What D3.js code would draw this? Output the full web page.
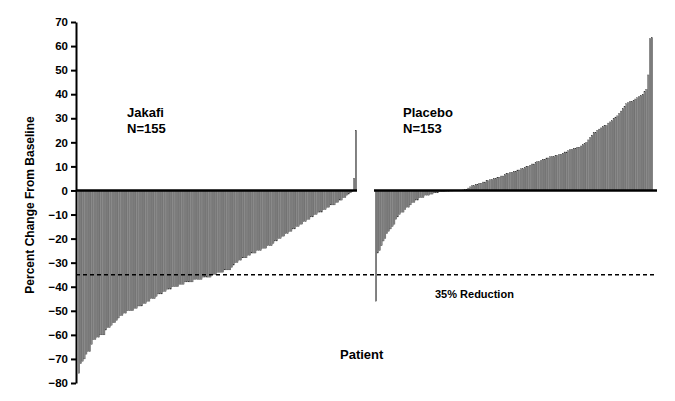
<!DOCTYPE html><html><head><meta charset="utf-8"><script src="https://cdn.jsdelivr.net/npm/d3@7"></script>
<style>body{margin:0;background:#fff}text{font-family:Arial,"Liberation Sans",sans-serif}</style></head><body><svg id="c" width="675" height="401"></svg>
<script>
const jakafi=[-76,-72,-71,-70,-68,-67,-67,-64,-62,-62,-61,-61,-60,-60,-60,-58,-57,-57,-56,-55,-55,-54,-53,-52,-52,-51,-51,-50,-50,-50,-50,-49,-49,-48,-48,-48,-47,-47,-46,-46,-45,-45,-45,-44,-43,-43,-43,-42,-42,-41,-41,-41,-40,-40,-40,-40,-39,-39,-39,-38,-38,-38,-38,-38,-37,-37,-37,-37,-37,-36,-36,-36,-36,-36,-35,-35,-35,-34,-34,-34,-34,-33,-33,-33,-33,-32,-31,-30,-30,-29,-29,-28,-28,-28,-27,-27,-26,-26,-26,-25,-25,-25,-24,-24,-24,-23,-23,-23,-22,-21,-21,-20,-20,-19,-19,-18,-18,-17,-17,-16,-16,-15,-15,-14,-14,-13,-13,-12,-12,-11,-11,-10,-10,-9,-9,-9,-8,-8,-7,-7,-6,-6,-6,-5,-5,-4,-4,-3,-3,-2,-1.5,-1,-0.5,5,25];
const placebo=[-46,-26,-25,-23,-21,-20,-18,-17,-16,-15,-14,-12,-11,-10,-9,-9,-8,-7,-7,-6,-5,-5,-4,-4,-3,-3,-3,-2,-2,-2,-1.5,-1.5,-1,-1,-1,-0.5,-0.5,-0.5,-0.5,-0.3,-0.3,-0.2,-0.2,-0.1,0,0,0,0,0.2,0.3,0.5,1,1.5,2,2,2.5,2.5,3,3,3.5,3.5,4,4,4.5,4.5,5,5,5.5,5.5,6,6,6.5,7,7,7.5,7.5,8,8,8.5,8.5,9,9,9.5,10,10,10.5,11,11,11.5,12,12,12.5,13,13,13.5,13.5,14,14,14,14.5,14.5,15,15,15.5,16,16,16.5,17,17,17.5,17.5,18,18,18.5,19,19.5,20,21,22,23,24,24,25,25.5,26,26.5,27,27,28,28.5,29,30,30.5,31,32,33,34,35,36,37,36.5,37,37.5,38,38.5,39,39.5,40,41,42,48,63,63.5].sort((a,b)=>a-b);
const yTicks=d3.range(-80,71,10);
const svg=d3.select("#c");
const y=d3.scaleLinear().domain([-80,70]).range([383,22]);
const xJ=d3.scaleBand().domain(d3.range(jakafi.length)).range([78,357]).padding(0.15);
const xP=d3.scaleBand().domain(d3.range(placebo.length)).range([375,653]).padding(0.15);
const draw=(data,x)=>svg.append("g").selectAll("rect").data(data).join("rect")
 .attr("x",(d,i)=>x(i)).attr("width",x.bandwidth())
 .attr("y",d=>y(Math.max(0,d))).attr("height",d=>Math.abs(y(d)-y(0))).attr("fill","#8a8a8a").attr("stroke","#333").attr("stroke-width",0.3);
draw(jakafi,xJ);draw(placebo,xP);
svg.append("line").attr("x1",76).attr("x2",357).attr("y1",y(0)).attr("y2",y(0)).attr("stroke","#000").attr("stroke-width",2.5);
svg.append("line").attr("x1",374).attr("x2",657).attr("y1",y(0)).attr("y2",y(0)).attr("stroke","#000").attr("stroke-width",2.5);
svg.append("line").attr("x1",76).attr("x2",655).attr("y1",y(-35)).attr("y2",y(-35)).attr("stroke","#000").attr("stroke-width",1.6).attr("stroke-dasharray","4,3");
const ax=svg.append("g").attr("transform","translate(76,0)").call(d3.axisLeft(y).tickValues(yTicks).tickSize(5).tickSizeOuter(0));
ax.select(".domain").attr("stroke-width",2);
ax.selectAll("line").attr("stroke-width",2);
ax.selectAll("text").attr("font-size",11.5).attr("font-weight","bold").attr("fill","#000");
const t=(x,yy,s,sz)=>svg.append("text").attr("x",x).attr("y",yy).attr("font-size",sz||12).attr("font-weight","bold").text(s);
t(127,117,"Jakafi",13);t(127,133,"N=155",13);t(403,117,"Placebo",13);t(403,133,"N=153",13);
t(435,298,"35% Reduction",11);t(340,359,"Patient",13);
svg.append("text").attr("transform","translate(34,205) rotate(-90)").attr("text-anchor","middle").attr("font-size",12).attr("font-weight","bold").text("Percent Change From Baseline");
</script></body></html>
